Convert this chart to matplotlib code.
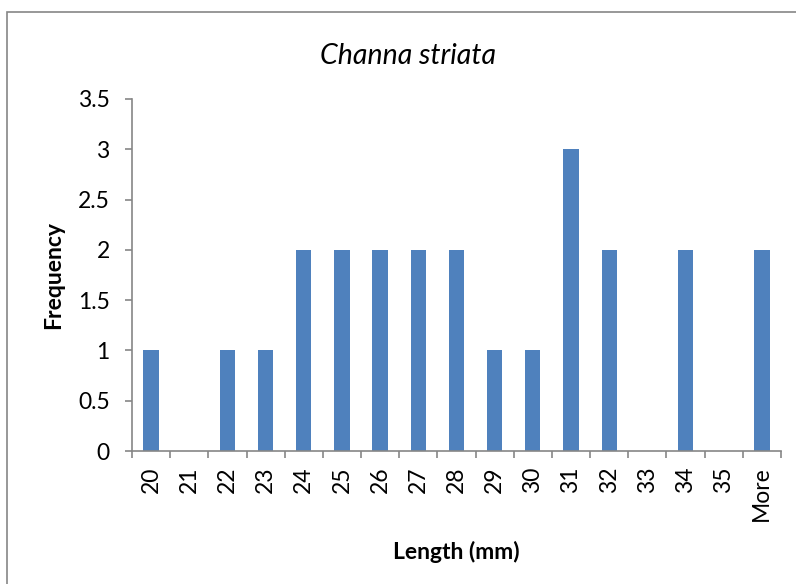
import matplotlib.pyplot as plt
import matplotlib.patches as patches
import numpy as np

plt.rcParams['font.family'] = ['Lato', 'DejaVu Sans']

# histogram bins and counts
BINS = ["20", "21", "22", "23", "24", "25", "26", "27", "28",
        "29", "30", "31", "32", "33", "34", "35", "More"]
FREQ = [1, 0, 1, 1, 2, 2, 2, 2, 2, 1, 1, 3, 2, 0, 2, 0, 2]
Y_TICKS = [0, 0.5, 1, 1.5, 2, 2.5, 3, 3.5]

fig = plt.figure(figsize=(7.96, 5.84), dpi=100)
ax = fig.add_axes([0.1658, 0.2277, 0.8153, 0.6028])

X = np.arange(len(BINS))
ax.bar(X, FREQ, width=0.4, color="#4F81BD")

ax.set_xlim(-0.5, len(BINS) - 0.5)
ax.set_ylim(0, 3.5)
ax.set_yticks(Y_TICKS)
ax.set_yticklabels(["0", "0.5", "1", "1.5", "2", "2.5", "3", "3.5"])

ax.set_xticks(X)
ax.set_xticklabels(BINS, rotation=90)
ax.set_xticks(np.arange(len(BINS) + 1) - 0.5, minor=True)
ax.tick_params(axis="x", which="major", length=0, pad=11, labelsize=16.5)
ax.tick_params(axis="x", which="minor", length=5, color="#868686", width=1.2)
ax.tick_params(axis="y", length=5, color="#868686", width=1.2, labelsize=16.5, pad=11)

for side in ["top", "right"]:
    ax.spines[side].set_visible(False)
for side in ["left", "bottom"]:
    ax.spines[side].set_color("#868686")
    ax.spines[side].set_linewidth(1.2)

ax.set_title("Channa striata", fontstyle="italic", fontsize=20.5, pad=25, x=0.425)
ax.set_xlabel("Length (mm)", fontweight="bold", fontsize=16.5, labelpad=14)
ax.set_ylabel("Frequency", fontweight="bold", fontsize=16.5, labelpad=10)

# outer chart border (cut off at right and bottom)
fig.patches.append(patches.Rectangle((7 / 796, -0.1), 1.2, 1 - 12 / 584 + 0.1,
                                     transform=fig.transFigure, fill=False,
                                     edgecolor="#868686", linewidth=1.2))

fig.savefig("out.png", dpi=100)
